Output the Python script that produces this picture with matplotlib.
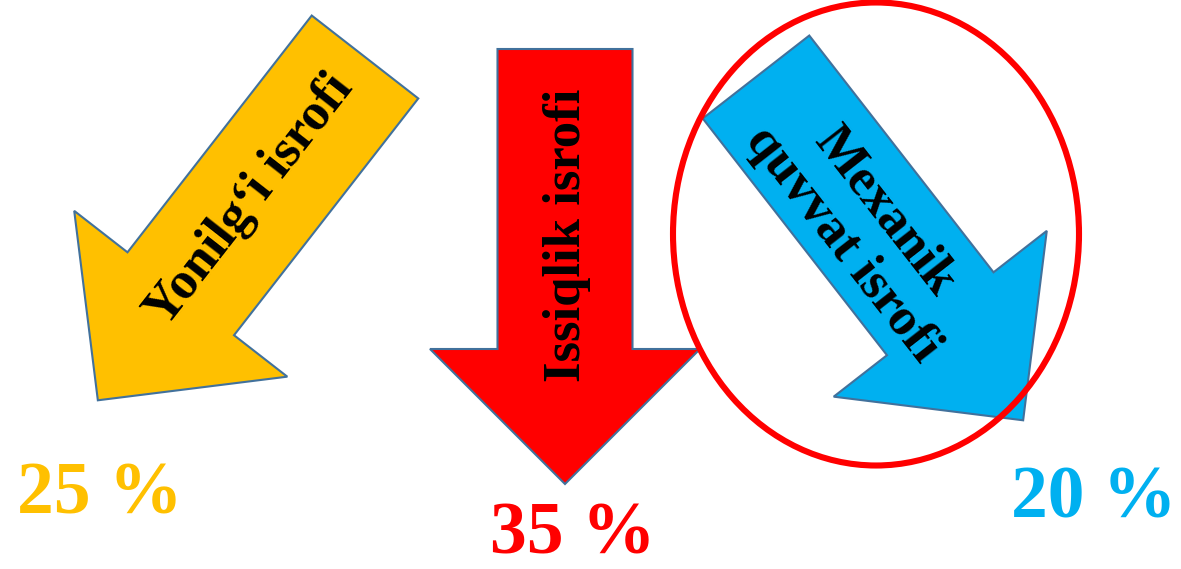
import numpy as np
import matplotlib
matplotlib.use("Agg")
import matplotlib.pyplot as plt
from matplotlib.patches import Polygon, Ellipse

# data
labels = ["Yonilg\u2018i isrofi", "Issiqlik isrofi", "Mexanik\nquvvat isrofi"]
percents = [25, 35, 20]
colors = ["#FFC000", "#FF0000", "#00B0F0"]

# layout (pixel coords, y down)
tails = [(365, 57), (565, 49), (756, 77)]
directions = [(-0.614, 0.789), (0.0, 1.0), (0.614, 0.789)]
text_pos = [(250, 200), (567, 235), (864, 228)]
text_rot = [52, 90, -52]
pct_pos = [(100, 513), (573, 553), (1094, 517)]

shaft_len, shaft_w, head_w, head_len = 300, 135, 270, 135
edge = "#41719C"


def arrow_poly(tail, d):
    t = np.array(tail, float)
    d = np.array(d, float)
    d = d / np.linalg.norm(d)
    n = np.array([-d[1], d[0]])
    base = t + d * shaft_len
    pts = [
        t + n * shaft_w / 2,
        base + n * shaft_w / 2,
        base + n * head_w / 2,
        base + d * head_len,
        base - n * head_w / 2,
        base - n * shaft_w / 2,
        t - n * shaft_w / 2,
    ]
    return np.array(pts)


fig = plt.figure(figsize=(11.81, 5.69), dpi=100)
ax = fig.add_axes([0, 0, 1, 1])
ax.set_xlim(0, 1181)
ax.set_ylim(569, 0)
ax.axis("off")

for i in range(3):
    ax.add_patch(Polygon(arrow_poly(tails[i], directions[i]), closed=True,
                         facecolor=colors[i], edgecolor=edge, lw=1.5, zorder=2))
    ax.text(text_pos[i][0], text_pos[i][1], labels[i], rotation=text_rot[i],
            rotation_mode="anchor", ha="center", va="center",
            multialignment="center", linespacing=1.15,
            family="Liberation Serif", weight="bold", fontsize=38,
            color="black", zorder=3)
    ax.text(pct_pos[i][0], pct_pos[i][1], f"{percents[i]} %", ha="center",
            va="baseline", family="Liberation Serif", weight="bold",
            fontsize=53, color=colors[i], zorder=3)

# highlight ring around the mechanical loss arrow
ax.add_patch(Ellipse((876, 234), 406, 463, fill=False, edgecolor="#FF0000",
                     lw=4.4, zorder=4))

fig.savefig("out.png", dpi=100)
